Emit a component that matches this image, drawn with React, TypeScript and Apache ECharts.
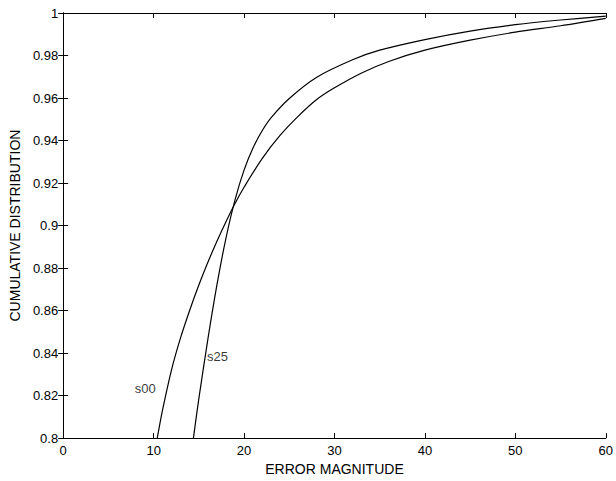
import React, { useEffect, useRef } from "react";
import * as echarts from "echarts";

const xTicks = [0, 10, 20, 30, 40, 50, 60];
const yTicks = [0.8, 0.82, 0.84, 0.86, 0.88, 0.9, 0.92, 0.94, 0.96, 0.98, 1];

const s00: [number, number][] = [
  [10.4, 0.8], [11, 0.8135], [12, 0.8325], [13, 0.8475], [14, 0.8603],
  [15, 0.872], [16, 0.8827], [17, 0.8926], [18, 0.9018], [19, 0.9104],
  [20, 0.918], [22, 0.9315], [24, 0.9425], [26, 0.9515], [28, 0.9592],
  [30, 0.9648], [33, 0.9718], [36, 0.9772], [40, 0.9825], [45, 0.9872],
  [50, 0.991], [55, 0.994], [60, 0.9975],
];

const s25: [number, number][] = [
  [14.4, 0.8], [15, 0.8186], [16, 0.8466], [17, 0.8721], [18, 0.8941],
  [19, 0.9121], [20, 0.9261], [21, 0.9366], [22, 0.9446], [23, 0.9508],
  [25, 0.9598], [28, 0.9697], [32, 0.978], [35, 0.9825], [40, 0.9875],
  [45, 0.9915], [50, 0.9945], [55, 0.9967], [60, 0.9985],
];

const curveLabels = [
  { name: "s00", at: [9.07, 0.8232] },
  { name: "s25", at: [17.07, 0.8385] },
];

const FONT = "'Liberation Sans', Arial, Helvetica, sans-serif";

export default function App() {
  const ref = useRef<HTMLDivElement>(null);
  useEffect(() => {
    if (!ref.current) return;
    const chart = echarts.init(ref.current, undefined, { renderer: "svg" });
    const axisLine = { show: true, lineStyle: { color: "#000", width: 1 } };
    const tick = { show: true, inside: true, length: 5, lineStyle: { color: "#000", width: 1 } };
    const xBase = { type: "value", min: xTicks[0], max: xTicks[xTicks.length - 1], interval: 10, splitLine: { show: false }, axisLine, axisTick: tick };
    const yBase = { type: "value", min: yTicks[0], max: yTicks[yTicks.length - 1], interval: 0.02, splitLine: { show: false }, axisLine, axisTick: tick };
    chart.setOption({
      animation: false,
      backgroundColor: "#fff",
      textStyle: { fontFamily: FONT },
      grid: { left: 58, right: 8, top: 13, bottom: 37 },
      xAxis: [
        {
          ...xBase,
          position: "bottom",
          name: "ERROR MAGNITUDE",
          nameLocation: "middle",
          nameGap: 21,
          nameTextStyle: { color: "#000", fontSize: 14, fontFamily: FONT },
          axisLabel: { color: "#000", fontSize: 13, margin: 6, fontFamily: FONT, formatter: (v: number) => String(v) },
        },
        { ...xBase, position: "top", axisLabel: { show: false } },
      ],
      yAxis: [
        {
          ...yBase,
          position: "left",
          name: "CUMULATIVE DISTRIBUTION",
          nameLocation: "middle",
          nameGap: 35,
          nameTextStyle: { color: "#000", fontSize: 14, fontFamily: FONT },
          axisLabel: {
            color: "#000", fontSize: 13, margin: 5, fontFamily: FONT,
            formatter: (v: number) => String(parseFloat(v.toFixed(2))),
          },
        },
        { ...yBase, position: "right", axisLabel: { show: false } },
      ],
      series: [
        {
          type: "line", name: "s00", data: s00, smooth: 0.3,
          showSymbol: false, lineStyle: { color: "#000", width: 1.2 }, clip: true,
        },
        {
          type: "line", name: "s25", data: s25, smooth: 0.3,
          showSymbol: false, lineStyle: { color: "#000", width: 1.2 }, clip: true,
        },
        {
          type: "scatter", symbolSize: 0, silent: true,
          data: curveLabels.map((l) => ({ value: l.at, name: l.name })),
          label: {
            show: true, position: "inside", color: "#000", fontSize: 13, fontFamily: FONT,
            formatter: (p: any) => p.name,
          },
        },
      ],
    });
    return () => chart.dispose();
  }, []);
  return (
    <div
      ref={ref}
      style={{ position: "fixed", left: 0, top: 0, width: 616, height: 481, background: "#fff" }}
    />
  );
}
